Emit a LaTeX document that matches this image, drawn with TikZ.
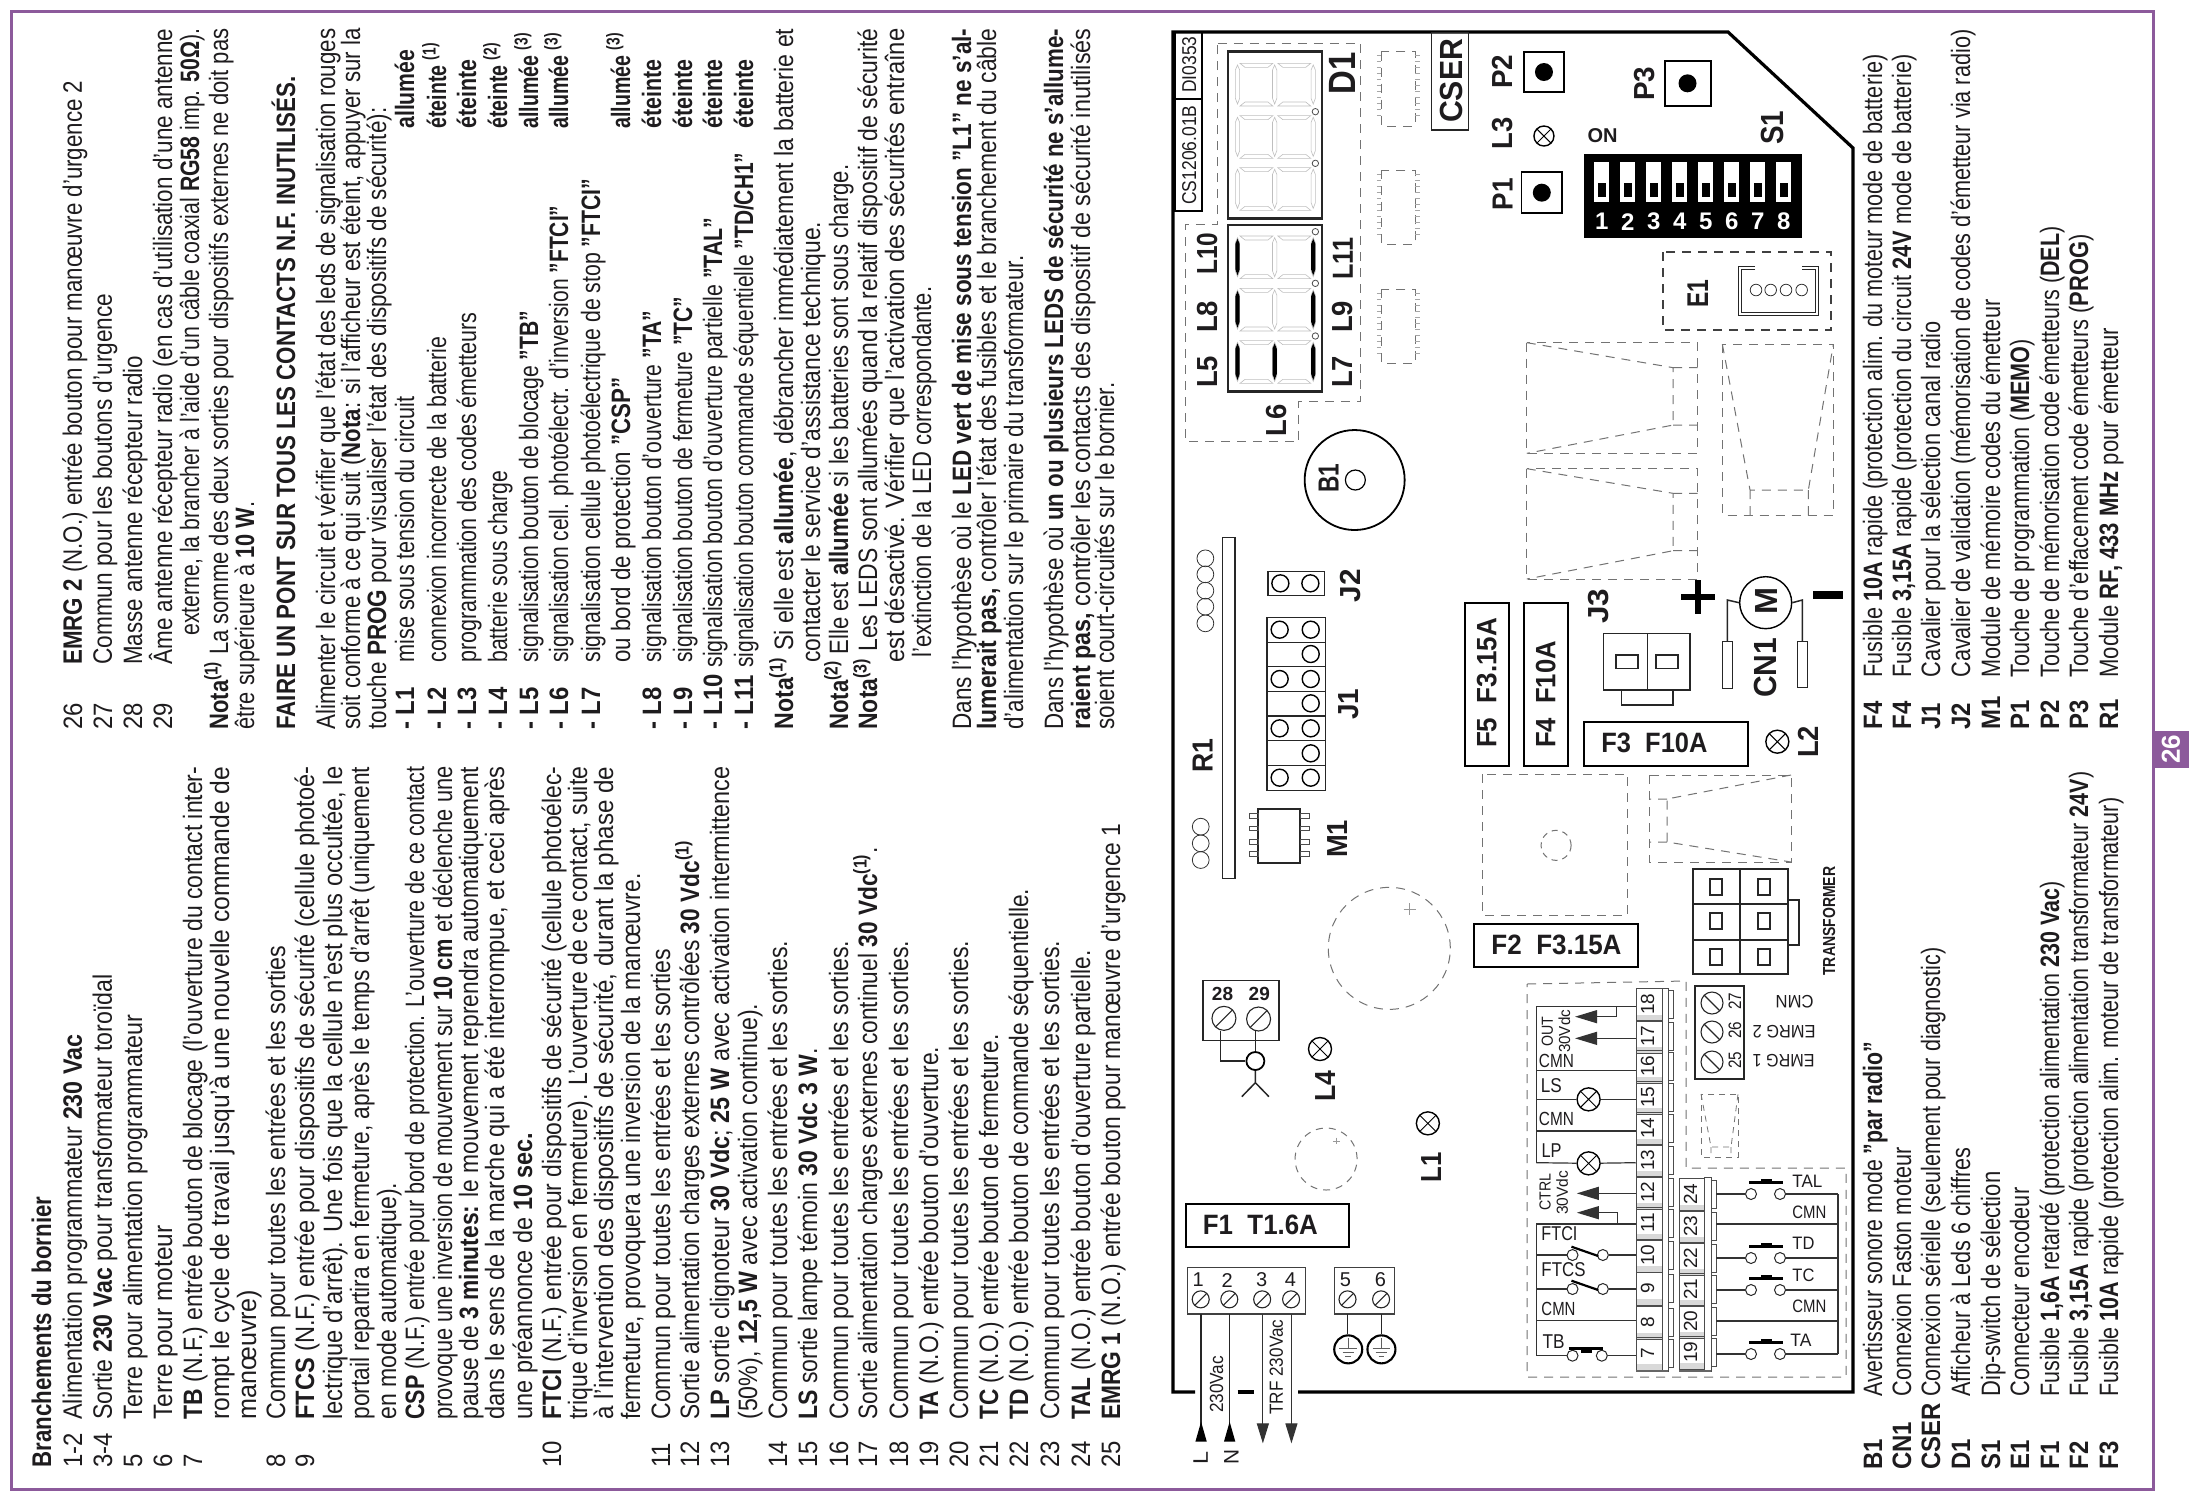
\documentclass[tikz,border=0pt]{standalone}
\usepackage{fontspec}
\usepackage{graphicx}
\setmainfont{Liberation Sans}
\usetikzlibrary{arrows.meta}
\definecolor{purp}{RGB}{140,90,155}
\definecolor{ink}{RGB}{30,28,30}
\newcounter{tc}
\newlength{\tmplen}
% rotated text with exact length
\newcommand\Rt[5]{\stepcounter{tc}\pgfmathsetlength{\tmplen}{#4*0.5pt}\node[rotate=90,anchor=base west,inner sep=0pt,text=ink] (t\arabic{tc}) at (#1,#2) {\resizebox{\tmplen}{\height}{\fontsize{#3}{#3}\selectfont #5}};}
\newcommand\Ht[5]{\stepcounter{tc}\pgfmathsetlength{\tmplen}{#4*0.5pt}\node[anchor=base west,inner sep=0pt,text=ink] (t\arabic{tc}) at (#1,#2) {\resizebox{\tmplen}{\height}{\fontsize{#3}{#3}\selectfont #5}};}
\newcommand\Ut[5]{\stepcounter{tc}\pgfmathsetlength{\tmplen}{#4*0.5pt}\node[rotate=180,anchor=base west,inner sep=0pt,text=ink] (t\arabic{tc}) at (#1,#2) {\resizebox{\tmplen}{\height}{\fontsize{#3}{#3}\selectfont #5}};}
% body line: baseline x, start y, end y
\newcommand\tl[4]{\pgfmathsetmacro\tmpd{#2-#3}\Rt{#1}{#2}{13.3}{\tmpd}{#4}}
% number / short label at natural width
\newcommand\Nn[3]{\stepcounter{tc}\node[rotate=90,anchor=base west,inner sep=0pt,text=ink] (t\arabic{tc}) at (#1,#2) {\scalebox{0.9}[1]{\fontsize{13.3}{13.3}\selectfont #3}};}
\newcommand\sq[1]{\textsuperscript{(#1)}}
\newcommand\digit[1]{%
 \foreach \bx in {245,349,457}{\draw[seg] (\bx,#1+5)--(\bx+6,#1+20)--(\bx+6,#1+105)--(\bx,#1+122)--(\bx-6,#1+105)--(\bx-6,#1+20)--cycle;}
 \foreach \bx in {252,358}{\draw[seg] (\bx,#1)--(\bx+92,#1)--(\bx+78,#1+12)--(\bx+14,#1+12)--cycle;
 \draw[seg] (\bx,#1+128)--(\bx+92,#1+128)--(\bx+78,#1+116)--(\bx+14,#1+116)--cycle;}}
\newcommand\blkbar[2]{\fill[black] (#1,#2+8)--(#1+6,#2+24)--(#1+6,#2+100)--(#1,#2+118)--(#1-6,#2+100)--(#1-6,#2+24)--cycle;}
\newcommand\icd[1]{\draw[dsh] (648,#1) rectangle (742,#1+223);
 \foreach \k in {0,...,10}{\draw[gray!70,line width=.25pt] (635,#1+12+18*\k)--(648,#1+12+18*\k) (742,#1+12+18*\k)--(755,#1+12+18*\k);}}
\tikzset{
 zA/.style={shift={(1150,#1)},x=0.17857pt,y=-0.16667pt},
 zB/.style={shift={(1700,#1)},x=0.16667pt,y=-0.16667pt},
 dsh/.style={draw=black!55,line width=.5pt,dash pattern=on 4.5pt off 3.5pt},
 dshk/.style={draw=black!75,line width=.6pt,dash pattern=on 4.5pt off 3.5pt},
 seg/.style={draw=gray!50,line width=.3pt},
 wire/.style={draw=black!80,line width=.6pt},
 hv/.style={draw=black,line width=.9pt},
 med/.style={draw=black!85,line width=.75pt},
 lamp/.style={circle,draw=black,fill=white,line width=.7pt,minimum size=#1,inner sep=0pt,path picture={\draw[line width=.5pt] (path picture bounding box.south west)--(path picture bounding box.north east) (path picture bounding box.north west)--(path picture bounding box.south east);}},
 lamp/.default=11.5pt,
 screwa/.style={circle,draw=black!85,line width=.55pt,minimum size=#1,inner sep=0pt,path picture={\draw[line width=.55pt] (path picture bounding box.south west)--(path picture bounding box.north east);}},
 screwb/.style={circle,draw=black!85,line width=.55pt,minimum size=#1,inner sep=0pt,path picture={\draw[line width=.55pt] (path picture bounding box.north west)--(path picture bounding box.south east);}},
 ct/.style={circle,draw=black!85,fill=white,line width=.5pt,minimum size=5.5pt,inner sep=0pt},
 pin/.style={circle,draw=black,line width=.7pt,minimum size=8.5pt,inner sep=0pt},
 arw/.style={wire,-{Triangle[length=11pt,width=6.5pt]}},
 arwb/.style={wire,-{Triangle[length=10pt,width=6pt]}},
 num/.style={rotate=90,anchor=base,inner sep=0pt,font=\fontsize{9.5}{9.5}\selectfont,text=ink},
}
\begin{document}
\begin{tikzpicture}[x=0.5pt,y=-0.5pt]
\useasboundingbox (0,0) rectangle (2194,1500);
\fill[white] (0,0) rectangle (2194,1500);
% page frame
\draw[purp,line width=1.5pt] (11,11) rectangle (2153,1489);
\fill[purp] (2153,731) rectangle (2189,768);
\node[rotate=90,inner sep=0pt,text=white,font=\fontsize{13}{13}\selectfont\bfseries] (page) at (2171,749.5) {26};

% ---------- first text column
\Rt{51}{1468}{13.5}{271}{\textbf{Branchements du bornier}}
\Nn{82}{1468}{1-2}\tl{82}{1420}{1035}{Alimentation programmateur \textbf{230 Vac}}
\Nn{112}{1468}{3-4}\tl{112}{1420}{975}{Sortie \textbf{230 Vac} pour transformateur toroïdal}
\Nn{142}{1468}{5}\tl{142}{1420}{1015}{Terre pour alimentation programmateur}
\Nn{172}{1468}{6}\tl{172}{1420}{1226}{Terre pour moteur}
\Nn{202}{1468}{7}\tl{202}{1420}{767}{\textbf{TB} (N.F.) entrée bouton de blocage (l'ouverture du contact inter-}
\tl{229}{1420}{767}{rompt le cycle de travail jusqu'à une nouvelle commande de}
\tl{256}{1420}{1290}{manœuvre)}
\Nn{285}{1468}{8}\tl{285}{1420}{946}{Commun pour toutes les entrées et les sorties}
\Nn{314}{1468}{9}\tl{314}{1420}{767}{\textbf{FTCS} (N.F.) entrée pour dispositifs de sécurité (cellule photoé-}
\tl{342}{1420}{767}{lectrique d'arrêt). Une fois que la cellule n'est plus occultée, le}
\tl{369}{1420}{767}{portail repartira en fermeture, après le temps d'arrêt (uniquement}
\tl{396}{1420}{1183}{en mode automatique).}
\tl{424}{1420}{767}{\textbf{CSP} (N.F.) entrée pour bord de protection. L'ouverture de ce contact}
\tl{452}{1420}{767}{provoque une inversion de mouvement sur \textbf{10 cm} et déclenche une}
\tl{478}{1420}{767}{pause de \textbf{3 minutes:} le mouvement reprendra automatiquement}
\tl{504}{1420}{767}{dans le sens de la marche qui a été interrompue, et ceci après}
\tl{532}{1420}{1133}{une préannonce de \textbf{10 sec.}}
\Nn{561}{1468}{10}\tl{561}{1420}{767}{\textbf{FTCI} (N.F.) entrée pour dispositifs de sécurité (cellule photoélec-}
\tl{587}{1420}{767}{trique d'inversion en fermeture). L'ouverture de ce contact, suite}
\tl{613}{1420}{767}{à l'intervention des dispositifs de sécurité, durant la phase de}
\tl{640}{1420}{874}{fermeture, provoquera une inversion de la manœuvre.}
\Nn{670}{1468}{11}\tl{670}{1420}{949}{Commun pour toutes les entrées et les sorties}
\Nn{699}{1468}{12}\tl{699}{1420}{841}{Sortie alimentation charges externes contrôlées \textbf{30 Vdc}\textbf{\sq{1}}}
\Nn{729}{1468}{13}\tl{729}{1420}{767}{\textbf{LP} sortie clignoteur \textbf{30 Vdc}; \textbf{25 W} avec activation intermittence}
\tl{757}{1420}{1004}{(50\%), \textbf{12,5 W} avec activation continue).}
\Nn{787}{1468}{14}\tl{787}{1420}{941}{Commun pour toutes les entrées et les sorties.}
\Nn{817}{1468}{15}\tl{817}{1420}{1049}{\textbf{LS} sortie lampe témoin \textbf{30 Vdc 3 W}.}
\Nn{848}{1468}{16}\tl{848}{1420}{941}{Commun pour toutes les entrées et les sorties.}
\Nn{877}{1468}{17}\tl{877}{1420}{848}{Sortie alimentation charges externes continuel \textbf{30 Vdc}\textbf{\sq{1}}.}
\Nn{908}{1468}{18}\tl{908}{1420}{941}{Commun pour toutes les entrées et les sorties.}
\Nn{938}{1468}{19}\tl{938}{1420}{1047}{\textbf{TA} (N.O.) entrée bouton d'ouverture.}
\Nn{968}{1468}{20}\tl{968}{1420}{941}{Commun pour toutes les entrées et les sorties.}
\Nn{998}{1468}{21}\tl{998}{1420}{1035}{\textbf{TC} (N.O.) entrée bouton de fermeture.}
\Nn{1028}{1468}{22}\tl{1028}{1420}{889}{\textbf{TD} (N.O.) entrée bouton de commande séquentielle.}
\Nn{1059}{1468}{23}\tl{1059}{1420}{941}{Commun pour toutes les entrées et les sorties.}
\Nn{1090}{1468}{24}\tl{1090}{1420}{951}{\textbf{TAL} (N.O.) entrée bouton d'ouverture partielle.}
\Nn{1120}{1468}{25}\tl{1120}{1420}{824}{\textbf{EMRG 1} (N.O.) entrée bouton pour manœuvre d'urgence 1}

% ---------- second text column
\Nn{82}{730}{26}\tl{82}{665}{81}{\textbf{EMRG 2} (N.O.) entrée bouton pour manœuvre d'urgence 2}
\Nn{112}{730}{27}\tl{112}{665}{294}{Commun pour les boutons d'urgence}
\Nn{142}{730}{28}\tl{142}{665}{356}{Masse antenne récepteur radio}
\Nn{172}{730}{29}\tl{172}{665}{29}{Âme antenne récepteur radio (en cas d'utilisation d'une antenne}
\tl{199}{636}{29}{externe, la brancher à l'aide d'un câble coaxial \textbf{RG58} imp. \textbf{50Ω}).}
\tl{228}{730}{29}{\textbf{Nota\sq{1}} La somme des deux sorties pour dispositifs externes ne doit pas}
\tl{254}{730}{502}{être supérieure à \textbf{10 W}.}
\tl{295}{730}{77}{\textbf{FAIRE UN PONT SUR TOUS LES CONTACTS N.F. INUTILISÉS.}}
\tl{335}{730}{29}{Alimenter le circuit et vérifier que l'état des leds de signalisation rouges}
\tl{360}{730}{29}{soit conforme à ce qui suit (\textbf{Nota}: si l'afficheur est éteint, appuyer sur la}
\tl{386}{730}{108}{touche \textbf{PROG} pour visualiser l'état des dispositifs de sécurité):}
\Nn{414}{730}{\textbf{- L1}}\tl{414}{663}{397}{mise sous tension du circuit}\tl{414}{129}{50}{\textbf{allumée}}
\Nn{446}{730}{\textbf{- L2}}\tl{446}{663}{337}{connexion incorrecte de la batterie}\tl{446}{129}{43}{\textbf{éteinte \sq{1}}}
\Nn{476}{730}{\textbf{- L3}}\tl{476}{663}{313}{programmation des codes émetteurs}\tl{476}{129}{60}{\textbf{éteinte}}
\Nn{507}{730}{\textbf{- L4}}\tl{507}{663}{471}{batterie sous charge}\tl{507}{129}{43}{\textbf{éteinte \sq{2}}}
\Nn{538}{730}{\textbf{- L5}}\tl{538}{663}{311}{signalisation bouton de blocage \textbf{"TB"}}\tl{538}{129}{33}{\textbf{allumée \sq{3}}}
\Nn{568}{730}{\textbf{- L6}}\tl{568}{663}{206}{signalisation cell. photoélectr. d'inversion \textbf{"FTCI"}}\tl{568}{129}{33}{\textbf{allumée \sq{3}}}
\Nn{600}{730}{\textbf{- L7}}\tl{600}{663}{179}{signalisation cellule photoélectrique de stop \textbf{"FTCI"}}
\tl{630}{663}{378}{ou bord de protection \textbf{"CSP"}}\tl{630}{129}{33}{\textbf{allumée \sq{3}}}
\Nn{661}{730}{\textbf{- L8}}\tl{661}{663}{311}{signalisation bouton d'ouverture \textbf{"TA"}}\tl{661}{129}{60}{\textbf{éteinte}}
\Nn{692}{730}{\textbf{- L9}}\tl{692}{663}{297}{signalisation bouton de fermeture \textbf{"TC"}}\tl{692}{129}{60}{\textbf{éteinte}}
\Nn{722}{730}{\textbf{- L10}}\tl{722}{668}{218}{signalisation bouton d'ouverture partielle \textbf{"TAL"}}\tl{722}{129}{60}{\textbf{éteinte}}
\Nn{753}{730}{\textbf{- L11}}\tl{753}{668}{153}{signalisation bouton commande séquentielle \textbf{"TD/CH1"}}\tl{753}{129}{60}{\textbf{éteinte}}
\tl{793}{730}{29}{\textbf{Nota\sq{1}} Si elle est \textbf{allumée}, débrancher immédiatement la batterie et}
\tl{820}{663}{222}{contacter le service d'assistance technique.}
\tl{848}{730}{165}{\textbf{Nota\sq{2}} Elle est \textbf{allumée} si les batteries sont sous charge.}
\tl{877}{730}{29}{\textbf{Nota\sq{3}} Les LEDS sont allumées quand la relatif dispositif de sécurité}
\tl{904}{663}{29}{est désactivé. Vérifier que l'activation des sécurités entraîne}
\tl{931}{658}{287}{l'extinction de la LED correspondante.}
\tl{971}{730}{29}{Dans l'hypothèse où le \textbf{LED vert de mise sous tension "L1" ne s'al-}}
\tl{996}{730}{29}{\textbf{lumerait pas,} contrôler l'état des fusibles et le branchement du câble}
\tl{1023}{730}{256}{d'alimentation sur le primaire du transformateur.}
\tl{1063}{730}{29}{Dans l'hypothèse où \textbf{un ou plusieurs LEDS de sécurité ne s'allume-}}
\tl{1090}{730}{29}{\textbf{raient pas,} contrôler les contacts des dispositif de sécurité inutilisés}
\tl{1114}{730}{383}{soient court-circuités sur le bornier.}

% ---------- legend
\Nn{1882}{1470}{\textbf{B1}}\tl{1882}{1397}{1042}{Avertisseur sonore mode \textbf{"par radio"}}
\Nn{1911}{1470}{\textbf{CN1}}\tl{1911}{1397}{1148}{Connexion Faston moteur}
\Nn{1940}{1470}{\textbf{CSER}}\tl{1940}{1397}{948}{Connexion sérielle (seulement pour diagnostic)}
\Nn{1970}{1470}{\textbf{D1}}\tl{1970}{1397}{1148}{Afficheur à Leds 6 chiffres}
\Nn{2000}{1470}{\textbf{S1}}\tl{2000}{1397}{1172}{Dip-switch de sélection}
\Nn{2029}{1470}{\textbf{E1}}\tl{2029}{1397}{1188}{Connecteur encodeur}
\Nn{2059}{1470}{\textbf{F1}}\tl{2059}{1397}{882}{Fusible \textbf{1,6A} retardé (protection alimentation \textbf{230 Vac})}
\Nn{2088}{1470}{\textbf{F2}}\tl{2088}{1397}{772}{Fusible \textbf{3,15A} rapide (protection alimentation transformateur \textbf{24V})}
\Nn{2118}{1470}{\textbf{F3}}\tl{2118}{1397}{798}{Fusible \textbf{10A} rapide (protection alim. moteur de transformateur)}
\Nn{1882}{730}{\textbf{F4}}\tl{1882}{678}{55}{Fusible \textbf{10A} rapide (protection alim. du moteur mode de batterie)}
\Nn{1911}{730}{\textbf{F4}}\tl{1911}{678}{55}{Fusible \textbf{3,15A} rapide (protection du circuit \textbf{24V} mode de batterie)}
\Nn{1940}{730}{\textbf{J1}}\tl{1940}{678}{322}{Cavalier pour la sélection canal radio}
\Nn{1970}{730}{\textbf{J2}}\tl{1970}{678}{30}{Cavalier de validation (mémorisation de codes d'émetteur via radio)}
\Nn{2000}{730}{\textbf{M1}}\tl{2000}{678}{300}{Module de mémoire codes du émetteur}
\Nn{2029}{730}{\textbf{P1}}\tl{2029}{678}{340}{Touche de programmation (\textbf{MEMO})}
\Nn{2059}{730}{\textbf{P2}}\tl{2059}{678}{227}{Touche de mémorisation code émetteurs (\textbf{DEL})}
\Nn{2088}{730}{\textbf{P3}}\tl{2088}{678}{235}{Touche d'effacement code émetteurs (\textbf{PROG})}
\Nn{2118}{730}{\textbf{R1}}\tl{2118}{678}{328}{Module \textbf{RF, 433 MHz} pour émetteur}

% ---------- board outline
\draw[black,line width=1.6pt,line join=miter] (1195,1392)--(1173,1392)--(1173,32)--(1728,32)--(1853,148)--(1853,1392)--(1298,1392);
\draw[black,line width=1.6pt] (1237.5,1392)--(1253.5,1392);
% id boxes
\draw[black,line width=.7pt] (1175,32) rectangle (1202,99) (1175,99) rectangle (1202,211);
\Rt{1196}{93}{10}{56}{DI0353}
\Rt{1196}{205}{10}{99}{CS1206.01B}

% ---------- zoom-4 area (display, relays)
\begin{scope}[zA=0]
 \draw[dsh] (190,130)--(590,130)--(590,1205)--(417,1205)--(417,1325)--(100,1325)--(100,672)--(190,672)--cycle;
 \digit{190}\digit{347}\digit{503}\digit{708}\digit{865}\digit{1022}
 \draw[black!85,line width=1.3pt] (218,155) rectangle (482,655);
 \draw[black!85,line width=1.3pt] (218,675) rectangle (482,1175);
 \foreach \yy in {708,865,1022}{\blkbar{245}{\yy}\blkbar{457}{\yy}}
 \blkbar{349}{1022}
 \foreach \yy in {335,490,695,850,1008}{\draw[black!70,line width=.4pt,fill=white] (463,\yy) circle[radius=1.6pt];}
 \Rt{575}{285}{19}{42}{\textbf{D1}}
 \Rt{188}{825}{14.5}{42}{\textbf{L10}}
 \Rt{188}{1000}{14.5}{32}{\textbf{L8}}
 \Rt{188}{1165}{14.5}{32}{\textbf{L5}}
 \Rt{568}{840}{14.5}{42}{\textbf{L11}}
 \Rt{568}{1000}{14.5}{32}{\textbf{L9}}
 \Rt{568}{1165}{14.5}{32}{\textbf{L7}}
 \Rt{383}{1310}{14.5}{32}{\textbf{L6}}
 \icd{155}\icd{510}\icd{868}
 \draw[black!85,line width=.8pt] (788,97) rectangle (892,390);
 \Rt{875}{370}{16}{84}{\textbf{CSER}}
 % buttons
 \foreach \bx/\by/\nm in {1103/216/pb,1097/578/pa,1505/250/pc}{\fill[black] (\bx,\by) circle[radius=4.5pt];}
 \draw[black,line width=.9pt] (1047,155) rectangle (1160,277) (1040,517) rectangle (1153,640) (1443,183) rectangle (1571,318);
 \Rt{1015}{268}{14.5}{34}{\textbf{P2}}
 \Rt{1015}{632}{14.5}{32}{\textbf{P1}}
 \Rt{1015}{450}{14.5}{32}{\textbf{L3}}
 \Rt{1412}{303}{14.5}{34}{\textbf{P3}}
 \node[lamp=10pt] (l3) at (1103,408) {};
 \node[inner sep=0pt,font=\fontsize{10}{10}\selectfont\bfseries,text=ink] (on) at (1267,408) {ON};
 % dip switch
 \fill[black] (1215,463) rectangle (1826,713);
 \foreach \i in {0,...,7}{
  \pgfmathsetmacro\xa{1243+72.8*\i}
  \fill[white] (\xa,485) rectangle (\xa+43,605);
  \fill[black] (\xa+10,548) rectangle (\xa+33,592);
  \pgfmathtruncatemacro\dg{\i+1}
  \node[inner sep=0pt,text=white,font=\fontsize{12}{12}\selectfont\bfseries] (dg\dg) at (\xa+22,665) {\dg};
 }
 % relays
 \draw[dsh] (1055,1028) rectangle (1533,1360);
 \draw[dsh] (1055,1028)--(1465,1103)--(1465,1275)--(1055,1360) (1465,1103)--(1533,1103) (1465,1275)--(1533,1275);
 \draw[dsh] (1055,1406) rectangle (1533,1737);
 \draw[dsh] (1055,1406)--(1465,1480)--(1465,1652)--(1055,1737) (1465,1480)--(1533,1480) (1465,1652)--(1533,1652);
 % B1
 \draw[black,line width=.9pt] (573,1440) circle[radius=25pt];
 \draw[black,line width=.6pt] (575,1440) circle[radius=5pt];
 \Rt{528}{1480}{14.5}{29}{\textbf{B1}}
\end{scope}

\draw[dshk] (1663,252) rectangle (1831,330);
\Rt{1708}{308}{15}{28}{\textbf{E1}}
\Rt{1783}{145}{16}{34}{\textbf{S1}}

% ---------- zoom-7 area
\begin{scope}[zB=0]
 \draw[black!85,line width=.5pt] (165,800)--(115,800)--(115,945)--(355,945)--(355,800)--(305,800);
 \draw[black!85,line width=.5pt] (165,808)--(123,808)--(123,937)--(347,937)--(347,808)--(305,808);
 \foreach \cx in {168,212,258,305}{\draw[black!80,line width=.4pt] (\cx,870) circle[radius=2.9pt];}
 \draw[dsh] (67,1033) rectangle (400,1545);
 \draw[dsh] (67,1033)--(150,1470)--(325,1470)--(400,1033) (150,1470)--(150,1545) (325,1470)--(325,1545);
\end{scope}

% ---------- zoom-5 area (jumpers, fuses)
\begin{scope}[zA=480]
 \draw[black!85,line width=.6pt] (202,172) rectangle (238,1195);
 \Rt{175}{880}{14.5}{34}{\textbf{R1}}
 \foreach \cy in {235,283,332,380,430}{\draw[black!80,line width=.4pt] (155,\cy) circle[radius=4.2pt];}
 \foreach \cy in {1040,1090,1140}{\draw[black!80,line width=.4pt] (142,\cy) circle[radius=4.2pt];}
 \draw[med] (331,275) rectangle (488,347);
 \node[pin] (j2a) at (365,310) {}; \node[pin] (j2b) at (449,310) {};
 \Rt{588}{368}{14.5}{33}{\textbf{J2}}
 \draw[med] (327,412) rectangle (491,932);
 \foreach \hy in {487,560,635,708,782,856}{\draw[med] (327,\hy)--(491,\hy);}
 \foreach \cy/\k in {449/a,597/b,745/c,893/d}{\node[pin] (j1l\k) at (363,\cy) {};}
 \foreach \cy/\k in {449/a,522/e,597/b,670/f,745/c,820/g,893/d}{\node[pin] (j1r\k) at (450,\cy) {};}
 \Rt{585}{720}{14.5}{31}{\textbf{J1}}
 \draw[black!85,line width=.9pt] (303,987) rectangle (420,1150);
 \foreach \py in {1007,1045,1085,1122}{\draw[black!70,line width=.4pt] (278,\py-7) rectangle (303,\py+7) (420,\py-7) rectangle (446,\py+7);}
 \Rt{553}{1135}{14.5}{38}{\textbf{M1}}
 \draw[hv] (883,368) rectangle (1005,858) (1048,368) rectangle (1170,858);
 \Rt{970}{805}{14}{130}{\textbf{F5~~F3.15A}}
 \Rt{1135}{805}{14}{107}{\textbf{F4~~F10A}}
 \Rt{1283}{432}{14.5}{35}{\textbf{J3}}
 \draw[med] (1270,460) rectangle (1512,630) (1393,460)--(1393,630) (1305,525) rectangle (1366,565) (1417,525) rectangle (1478,565) (1320,630) rectangle (1465,675);
 \draw[dsh] (930,882) rectangle (1338,1305);
 \draw[dsh,dash pattern=on 3pt off 2.5pt] (1137,1096) circle[radius=7.5pt];
 \draw[hv] (908,1332) rectangle (1366,1462);
 \Ht{955}{1423}{14}{130}{\textbf{F2~~F3.15A}}
 \draw[dsh] (670,1405) circle[radius=30.5pt];
 \draw[gray!80,line width=.4pt] (710,1287)--(745,1287) (727,1270)--(727,1305);
\end{scope}

% fuse F3, plus, minus, motor
\draw[hv] (1584,722) rectangle (1748,766);
\Ht{1601}{752}{14}{106}{\textbf{F3~~F10A}}
\draw[black,line width=3pt] (1681,597)--(1715,597) (1698,580)--(1698,614);
\draw[black,line width=4pt] (1813,595)--(1843,595);
\begin{scope}[zB=500]
 \node[circle,draw=black,line width=.7pt,minimum size=26pt,inner sep=0pt] (motor) at (197,308) {};
 \coordinate (mfa) at (82,425); \coordinate (mfb) at (307,425);
 \draw[med] (motor.west) -- (82,300) -- (mfa);
 \draw[med] (motor.east) -- (307,300) -- (mfb);
 \draw[med] (68,425) rectangle (98,565) (292,425) rectangle (322,562);
 \Rt{232}{345}{16}{27}{\textbf{M}}
 \Rt{230}{595}{16}{60}{\textbf{CN1}}
 \node[lamp] (l2) at (232,725) {};
 \Rt{355}{775}{14.5}{32}{\textbf{L2}}
\end{scope}
% relay 3
\draw[dsh] (1649,775) rectangle (1791,862);
\draw[dsh] (1791,775)--(1667,799)--(1667,842)--(1791,862) (1667,799)--(1649,799) (1667,842)--(1649,842);
% transformer connector
\draw[med] (1693,869) rectangle (1788,974) (1740,869)--(1740,974) (1693,904)--(1788,904) (1693,940)--(1788,940) (1788,900) rectangle (1799,945);
\foreach \cx in {1716,1764}{\foreach \cy in {887,921,957}{\draw[med] (\cx-6,\cy-8) rectangle (\cx+6,\cy+8);}}
\Rt{1835}{976}{8.7}{109}{\textbf{TRANSFORMER}}
% EMRG
\draw[black!85,line width=.6pt] (1695,986) rectangle (1744,1079);
\node[screwb=11pt] (s27) at (1712,1003) {}; \node[screwb=11pt] (s26) at (1712,1032) {}; \node[screwb=11pt] (s25) at (1712,1062) {};
\Rt{1741}{1010}{9}{17}{27}\Rt{1741}{1039}{9}{17}{26}\Rt{1741}{1069}{9}{17}{25}
\Ut{1814}{995}{9}{38}{CMN}
\Ut{1816}{1025}{9}{63}{EMRG 2}
\Ut{1815}{1054}{9}{62}{EMRG 1}
\draw[dsh,dash pattern=on 3pt off 2.5pt,line width=.4pt] (1701,1094) rectangle (1738,1157);
\draw[dsh,dash pattern=on 3pt off 2.5pt,line width=.4pt] (1701,1094)--(1711,1147)--(1731,1147)--(1738,1094) (1711,1147)--(1711,1157) (1731,1147)--(1731,1157);
% big dashed enclosure
\draw[dsh] (1527,984)--(1686,981)--(1686,1168)--(1846,1168)--(1846,1377)--(1527,1377)--cycle;

% ---------- terminal strips
\foreach \n/\y in {18/1004,17/1036,16/1066,15/1097,14/1128,13/1160,12/1192,11/1223,10/1255,9/1288,8/1322,7/1353}{
 \fill[gray!30] (1636,\y+11) rectangle (1662,\y+17);
 \draw[black!70,line width=.4pt] (1636,\y-15.5) rectangle (1662,\y+17);
 \draw[black!70,line width=.4pt] (1668,\y-14) rectangle (1673,\y+14);
 \node[num] (n\n) at (1654,\y) {\n};
}
\draw[black!70,line width=.5pt,fill=white] (1662,988) rectangle (1668,1371);
\draw[black!60,line width=.7pt] (1636,1371)--(1668,1371);
\foreach \n/\y in {24/1194,23/1226,22/1258,21/1289,20/1321,19/1352}{
 \fill[gray!30] (1679,\y+11) rectangle (1704,\y+17);
 \draw[black!70,line width=.4pt] (1679,\y-15.5) rectangle (1704,\y+17);
 \draw[black!70,line width=.4pt] (1711,\y-14) rectangle (1716,\y+14);
 \node[num] (n\n) at (1697,\y) {\n};
}
\draw[black!70,line width=.5pt,fill=white] (1704,1177) rectangle (1711,1371);
\draw[black!60,line width=.7pt] (1679,1371)--(1711,1371);

% right wiring
\coordinate (bt) at (1838,1194); \coordinate (bb) at (1838,1354);
\draw[wire] (bt)--(bb);
\foreach \k/\y in {tal/1194,td/1258,tc/1290,ta/1354}{
 \coordinate (w\k) at (1716,\y); \coordinate (e\k) at (1838,\y);
 \node[ct] (a\k) at (1751,\y) {}; \node[ct] (b\k) at (1780,\y) {};
 \draw[wire] (w\k)--(a\k) (b\k)--(e\k);
 \draw[black,line width=1.5pt] (1749,\y-12)--(1783,\y-12);
 \draw[black,line width=1.5pt] (1761,\y-14)--(1772,\y-14);
}
\coordinate (w23) at (1716,1224); \coordinate (e23) at (1838,1224); \draw[wire] (w23)--(e23);
\coordinate (w20) at (1716,1321); \coordinate (e20) at (1838,1321); \draw[wire] (w20)--(e20);
\Ht{1792}{1187}{9}{30}{TAL}
\Ht{1792}{1218}{9}{34}{CMN}
\Ht{1792}{1249}{9}{22}{TD}
\Ht{1792}{1281}{9}{22}{TC}
\Ht{1792}{1312}{9}{34}{CMN}
\Ht{1790}{1346}{9}{21}{TA}

% ---------- zoom-6 area
\begin{scope}[zA=960]
 % wires from terminals
 \foreach \n/\y in {w18/140,w17/235,w16/332,w15/418,w14/513,w13/608,w12/700,w11/792,w10/885,w9/987,w8/1082,w7/1187}{\coordinate (\n) at (1360,\y);}
 \coordinate (ld) at (1082,608);
 \draw[wire] (w18)--(1082,140)--(ld);
 \draw[arw] (1305,140)--(1305,170)--(1190,170);
 \draw[arw] (w17)--(1190,235);
 \draw[wire] (w16)--(1082,332);
 \node[lamp] (ls) at (1228,418) {};
 \draw[wire] (w15)--(ls) (ls)--(1082,418);
 \draw[wire] (w14)--(1082,513);
 \node[lamp] (lp) at (1228,610) {};
 \draw[wire] (w13)--(lp) (lp)--(ld);
 \draw[arw] (w12)--(1195,700);
 \draw[wire] (w11)--(1083,792)--(1083,1187);
 \draw[arw] (1308,792)--(1308,758)--(1195,758);
 \node[ct] (c10a) at (1183,885) {}; \node[ct] (c10b) at (1268,885) {};
 \draw[wire] (w10)--(c10b) (c10a)--(1083,885);
 \draw[black,line width=1.1pt] (1180,860)--(1255,888);
 \node[ct] (c9a) at (1183,987) {}; \node[ct] (c9b) at (1268,987) {};
 \draw[wire] (w9)--(c9b) (c9a)--(1083,987);
 \draw[black,line width=1.1pt] (1180,962)--(1255,990);
 \draw[wire] (w8)--(1083,1082);
 \node[ct] (c7a) at (1183,1187) {}; \node[ct] (c7b) at (1265,1187) {};
 \draw[wire] (w7)--(c7b) (c7a)--(1083,1187);
 \draw[black,line width=1.5pt] (1172,1165)--(1268,1165);
 \draw[black,line width=2pt] (1207,1172)--(1237,1172);
 \Ht{1088}{322}{9.5}{35}{CMN}
 \Ht{1093}{398}{10}{21}{LS}
 \Ht{1088}{495}{9.5}{35}{CMN}
 \Ht{1095}{592}{10}{20}{LP}
 \Ht{1095}{842}{10}{36}{FTCI}
 \Ht{1095}{948}{10}{44}{FTCS}
 \Ht{1095}{1067}{9.5}{34}{CMN}
 \Ht{1098}{1165}{10}{22}{TB}
 \Rt{1128}{262}{8}{30}{OUT}
 \Rt{1176}{280}{8}{43}{30Vdc}
 \Rt{1122}{752}{8}{37}{CTRL}
 \Rt{1170}{765}{8}{44}{30Vdc}
 % 28 / 29 antenna
 \draw[med] (148,62) rectangle (361,242);
 \node[inner sep=0pt,font=\fontsize{9.5}{9.5}\selectfont\bfseries,text=ink] (n28) at (203,103) {28};
 \node[inner sep=0pt,font=\fontsize{9.5}{9.5}\selectfont\bfseries,text=ink] (n29) at (306,103) {29};
 \node[screwa=12pt] (s28) at (207,175) {};
 \node[screwa=12pt] (s29) at (304,177) {};
 \node[circle,draw=black,fill=white,line width=.9pt,minimum size=9pt,inner sep=0pt] (ant) at (295,303) {};
 \draw[med] (198,212)--(198,303)--(ant.west);
 \draw[med] (295,212)--(ant.north);
 \coordinate (fk) at (295,368);
 \draw[med] (ant.south)--(fk) (257,410)--(fk)--(333,410);
 \node[lamp] (l4) at (476,267) {};
 \Rt{518}{425}{14.5}{31}{\textbf{L4}}
 \node[lamp] (l1) at (778,490) {};
 \Rt{815}{668}{14.5}{30}{\textbf{L1}}
 \draw[dsh,dash pattern=on 3.5pt off 3pt] (493,597) circle[radius=15.5pt];
 \draw[gray!80,line width=.35pt] (512,543)--(532,543) (522,533)--(522,553);
 % fuse F1
 \draw[hv] (100,733) rectangle (557,862);
 \Ht{147}{823}{14}{115}{\textbf{F1~~T1.6A}}
 % terminal blocks
 \draw[black!75,line width=.6pt] (104,922) rectangle (435,1062) (516,922) rectangle (684,1062);
 \foreach \tn/\tx/\sx in {1/135/142,2/216/222,3/313/314,4/393/395,5/547/553,6/645/647}{
  \node[inner sep=0pt,font=\fontsize{10}{10}\selectfont,text=ink] (bn\tn) at (\tx,960) {\tn};
  \node[screwa=8.5pt] (bs\tn) at (\sx,1018) {};
 }
 \coordinate (b1) at (143,1062); \coordinate (b2) at (223,1062); \coordinate (b3) at (316,1062); \coordinate (b4) at (396,1062);
 \coordinate (e3) at (316,1450); \coordinate (e4) at (396,1450);
 \draw[black!85,line width=.6pt] (b1)--(143,1440) (b2)--(223,1440);
 \path[fill=black] (143,1385)--(127,1445)--(159,1445)--cycle (223,1385)--(207,1445)--(239,1445)--cycle;
 \draw[arwb] (b3)--(e3);
 \draw[arwb] (b4)--(e4);
 \Rt{205}{1360}{9.5}{57}{230Vac}
 \Rt{372}{1365}{9.5}{95}{TRF 230Vac}
 \Rt{162}{1515}{10.5}{13}{L}
 \Rt{248}{1515}{10.5}{15}{N}
 % earth
 \foreach \g/\cx in {g5/555,g6/648}{
  \node[circle,draw=black,line width=1.05pt,minimum size=14pt,inner sep=0pt] (\g) at (\cx,1168) {};
  \draw[gray!75!black,line width=.4pt] (\cx-25,1165)--(\cx+25,1165) (\cx-16,1177)--(\cx+16,1177) (\cx-8,1188)--(\cx+8,1188) (\cx,1135)--(\cx,1165);
 }
 \coordinate (b5) at (552,1062); \coordinate (b6) at (648,1062);
 \draw[black!85,line width=.5pt] (b5)--(b5 |- g5.north) (b6)--(g6.north);
\end{scope}
\end{tikzpicture}
\end{document}
